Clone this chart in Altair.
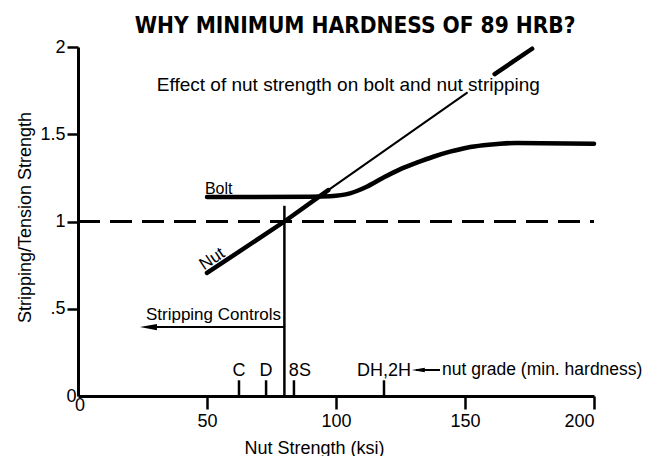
import altair as alt
import pandas as pd

# ---------------- data ----------------
title_text = "WHY MINIMUM HARDNESS OF 89 HRB?"
subtitle_text = "Effect of nut strength on bolt and nut stripping"
x_title = "Nut Strength (ksi)"
y_title = "Stripping/Tension Strength"

x_ticks = [50, 100, 150, 200]
y_ticks = [0, 0.5, 1, 1.5, 2]

# bolt stripping/tension strength curve
bolt_x = [50, 90, 97.7, 105.4, 111.9, 118.3, 124.8, 131.3, 137.7, 144.2, 150.7, 157.1, 163.6, 170, 200]
bolt_y = [1.14, 1.142, 1.145, 1.161, 1.199, 1.251, 1.299, 1.337, 1.371, 1.40, 1.423, 1.437, 1.446, 1.45, 1.446]

# nut stripping line (thick lower part, thin middle, thick top)
nut_low_x = [50, 80, 97]
nut_low_y = [0.705, 1.0, 1.18]
nut_mid_x = [97, 151]
nut_mid_y = [1.18, 1.74]
nut_top_x = [161.5, 176]
nut_top_y = [1.845, 1.99]

# reference lines
unity_x = [0, 200]
unity_y = [1.0]
crit_x = [80]
crit_y = [0, 1.09]

# "Stripping Controls" arrow
strip_x = [27, 80]
strip_y = [0.395]
strip_head_x = [27.3]
strip_label = ["Stripping Controls"]
strip_label_xy = [78.7, 0.436]

# nut grades
grade_x = [62.4, 72.9, 83.7, 118.6]
grade_labels = ["C", "D", "8S", "DH,2H"]
grade_label_x = [62.4, 72.9, 86.0, 118.6]
grade_tick_y = [0, 0.09]
grade_label_y = [0.115]
grade_arrow_x = [131.0, 140.3]
grade_arrow_y = [0.149]
grade_head_x = [131.9]
grade_note = ["nut grade (min. hardness)"]
grade_note_xy = [141.1, 0.118]

bolt_label = ["Bolt"]
bolt_label_xy = [49.2, 1.157]
nut_label = ["Nut"]
nut_label_xy = [52.0, 0.785]
subtitle_xy = [104.8, 1.748]
title_xy = [107.4, 2.083]
x_zero_label = ["0"]
x_zero_xy = [0.8, -0.058]

FONT = "Liberation Sans"
TITLE_FONT = "DejaVu Sans Condensed, Liberation Sans"
BLACK = "#000000"

# ---------------- encodings ----------------
xs = alt.Scale(domain=[0, 200], nice=False, zero=False)
ys = alt.Scale(domain=[0, 2], nice=False, zero=False)

x_axis = alt.Axis(
    values=x_ticks, title=x_title, tickSize=13, labelPadding=3,
    titleX=236, titleY=57, titleAlign="center", titleBaseline="alphabetic",
)
y_axis = alt.Axis(
    values=y_ticks, title=y_title, format="~g",
    labelExpr="datum.value == 0.5 ? '.5' : datum.label",
    tickSize={"condition": {"test": "datum.value === 0", "value": 0}, "value": 11},
    labelPadding=2,
    titleX=-53, titleY=170, titleAngle=270, titleAlign="center", titleBaseline="middle",
)

X = alt.X("x:Q", scale=xs, axis=x_axis)
Y = alt.Y("y:Q", scale=ys, axis=y_axis)


def df(**cols):
    return pd.DataFrame(cols)


def label(xy, texts, size, align="center", baseline="alphabetic", **kw):
    return alt.Chart(df(x=[xy[0]], y=[xy[1]], t=texts)).mark_text(
        font=kw.pop("font", FONT), fontSize=size, color=BLACK, align=align, baseline=baseline, **kw
    ).encode(x=X, y=Y, text="t:N")


bolt = alt.Chart(df(x=bolt_x, y=bolt_y)).mark_line(
    color=BLACK, strokeWidth=4.5, interpolate="monotone", strokeCap="round"
).encode(x=X, y=Y)

nut_low = alt.Chart(df(x=nut_low_x, y=nut_low_y)).mark_line(
    color=BLACK, strokeWidth=4.5, strokeCap="round"
).encode(x=X, y=Y)
nut_mid = alt.Chart(df(x=nut_mid_x, y=nut_mid_y)).mark_line(
    color=BLACK, strokeWidth=2
).encode(x=X, y=Y)
nut_top = alt.Chart(df(x=nut_top_x, y=nut_top_y)).mark_line(
    color=BLACK, strokeWidth=4.5, strokeCap="round"
).encode(x=X, y=Y)

unity = alt.Chart(df(x=[unity_x[0]], x2=[unity_x[1]], y=unity_y)).mark_rule(
    color=BLACK, strokeWidth=3, strokeDash=[22, 10]
).encode(x=X, x2="x2:Q", y=Y)

crit = alt.Chart(df(x=crit_x, y=[crit_y[0]], y2=[crit_y[1]])).mark_rule(
    color=BLACK, strokeWidth=2.5
).encode(x=X, y=Y, y2="y2:Q")

strip_line = alt.Chart(df(x=[strip_x[0]], x2=[strip_x[1]], y=strip_y)).mark_rule(
    color=BLACK, strokeWidth=2
).encode(x=X, x2="x2:Q", y=Y)
arrow_shape = "M -1 0 L 1 -0.36 L 1 0.36 Z"
strip_head = alt.Chart(df(x=strip_head_x, y=strip_y)).mark_point(
    shape=arrow_shape, filled=True, color=BLACK, size=290, opacity=1
).encode(x=X, y=Y)

grade_ticks = alt.Chart(df(x=grade_x, y=[grade_tick_y[0]] * 4, y2=[grade_tick_y[1]] * 4)).mark_rule(
    color=BLACK, strokeWidth=2.5
).encode(x=X, y=Y, y2="y2:Q")
grade_text = alt.Chart(df(x=grade_label_x, y=grade_label_y * 4, t=grade_labels)).mark_text(
    font=FONT, fontSize=18, color=BLACK, align="center", baseline="alphabetic"
).encode(x=X, y=Y, text="t:N")
grade_arrow = alt.Chart(df(x=[grade_arrow_x[0]], x2=[grade_arrow_x[1]], y=grade_arrow_y)).mark_rule(
    color=BLACK, strokeWidth=2
).encode(x=X, x2="x2:Q", y=Y)
grade_head = alt.Chart(df(x=grade_head_x, y=grade_arrow_y)).mark_point(
    shape=arrow_shape, filled=True, color=BLACK, size=170, opacity=1
).encode(x=X, y=Y)
grade_note_text = label(grade_note_xy, grade_note, 17.5, align="left")

strip_text = label(strip_label_xy, strip_label, 17, align="right")
bolt_text = label(bolt_label_xy, bolt_label, 16, align="left")
nut_text = label(nut_label_xy, nut_label, 17, baseline="middle", angle=326)
sub_text = label(subtitle_xy, [subtitle_text], 19)
title_mark = label(title_xy, [title_text], 22.5, font=TITLE_FONT, fontWeight="bold")
zero_text = label(x_zero_xy, x_zero_label, 18, baseline="middle")

chart = alt.layer(
    unity, crit, bolt, nut_low, nut_mid, nut_top,
    strip_line, strip_head, grade_ticks, grade_text, grade_arrow, grade_head,
    grade_note_text, strip_text, bolt_text, nut_text, sub_text, title_mark, zero_text,
).properties(
    width=516,
    height=349,
    autosize=alt.AutoSizeParams(type="none"),
    padding={"left": 70, "top": 39, "right": 60, "bottom": 60},
).configure_view(stroke=None).configure_axis(
    grid=False,
    domainColor=BLACK, domainWidth=3,
    tickColor=BLACK, tickWidth=2.5,
    labelFont=FONT, labelFontSize=18, labelColor=BLACK,
    titleFont=FONT, titleFontSize=18, titleFontWeight="normal", titleColor=BLACK,
)

chart.save("out.html", embed_options={"renderer": "svg", "actions": False})
